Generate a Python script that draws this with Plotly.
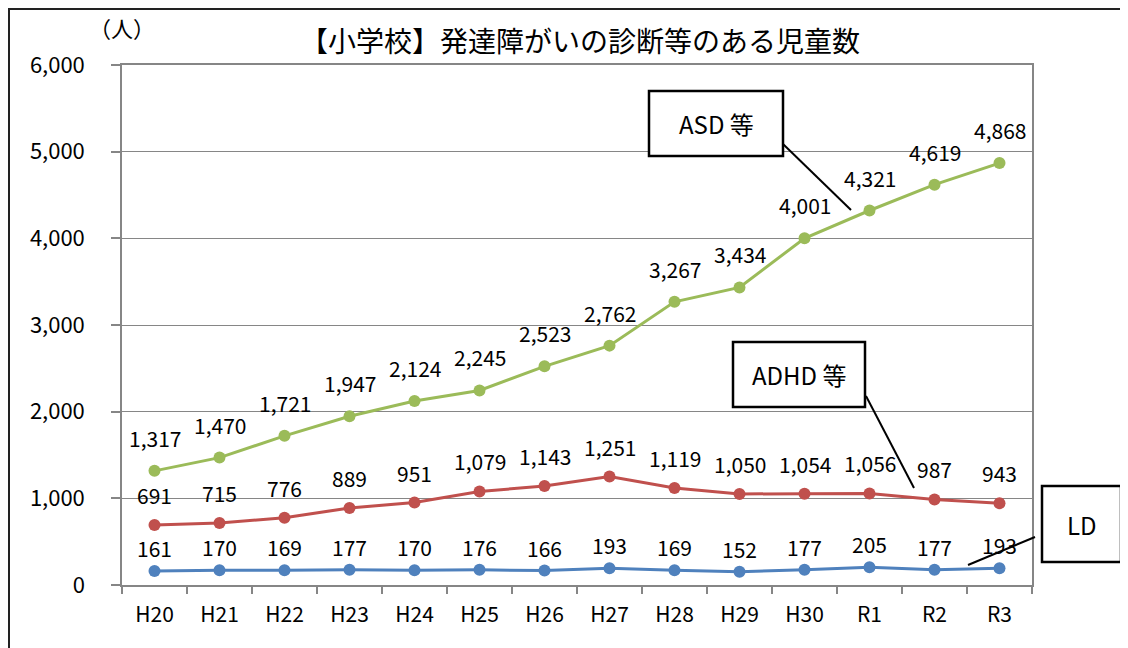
import plotly.graph_objects as go

categories = ["H20", "H21", "H22", "H23", "H24", "H25", "H26", "H27", "H28", "H29", "H30", "R1", "R2", "R3"]
asd = [1317, 1470, 1721, 1947, 2124, 2245, 2523, 2762, 3267, 3434, 4001, 4321, 4619, 4868]
adhd = [691, 715, 776, 889, 951, 1079, 1143, 1251, 1119, 1050, 1054, 1056, 987, 943]
ld = [161, 170, 169, 177, 170, 176, 166, 193, 169, 152, 177, 205, 177, 193]
series_names = ["ASD 等", "ADHD 等", "LD"]

OFF = 8  # page body margin
W, H = 1128 - OFF, 648 - OFF
L, R, T, B = 122, 1032, 65, 585  # plot area in window pixels
FONT = "Noto Sans CJK JP, Noto Sans, sans-serif"

def px(x):
    return (x - L) / (R - L)

def py(y):
    return (B - y) / (B - T)

fig = go.Figure()
styles = [("#9BBB59", 33), ("#C0504D", 30), ("#4F81BD", 23)]
annotations = []
for vals, name, (col, shift) in zip([asd, adhd, ld], series_names, styles):
    fig.add_trace(go.Scatter(
        x=categories, y=vals, name=name, mode="lines+markers",
        line=dict(color=col, width=3), marker=dict(color=col, size=12),
        hoverinfo="x+y+name", showlegend=False,
    ))
    for c, v in zip(categories, vals):
        annotations.append(dict(
            x=c, y=v, xref="x", yref="y", text=f"{v:,}", showarrow=False,
            yshift=shift, yanchor="middle", xanchor="center",
            font=dict(family=FONT, size=21, color="#000"),
        ))

# title and unit
annotations.append(dict(x=px(580), y=py(40), xref="paper", yref="paper",
                        text="【小学校】発達障がいの診断等のある児童数", showarrow=False,
                        xanchor="center", yanchor="middle",
                        font=dict(family=FONT, size=28, color="#000")))
annotations.append(dict(x=px(122), y=py(27), xref="paper", yref="paper",
                        text="（人）", showarrow=False, xanchor="center", yanchor="middle",
                        font=dict(family=FONT, size=22, color="#000")))

shapes = []
# outer border (drawn at the figure's top-left edge)
shapes.append(dict(type="rect", xref="paper", yref="paper",
                   x0=px(9), y0=py(670), x1=px(1150), y1=py(9),
                   line=dict(color="#222", width=2), fillcolor="rgba(0,0,0,0)"))

# callout boxes
boxes = [
    ("ASD 等", (649, 91, 783, 156), ((783, 144), (851, 210))),
    ("ADHD 等", (733, 342, 865, 407), ((866, 396), (914, 488))),
    ("LD", (1042, 486, 1121, 562), ((1035, 537), (968, 565))),
]
for text, (x0, y0, x1, y1), ((lx0, ly0), (lx1, ly1)) in boxes:
    shapes.append(dict(type="rect", xref="paper", yref="paper",
                       x0=px(x0), y0=py(y1), x1=px(x1), y1=py(y0),
                       line=dict(color="#000", width=2.5), fillcolor="white"))
    shapes.append(dict(type="line", xref="paper", yref="paper",
                       x0=px(lx0), y0=py(ly0), x1=px(lx1), y1=py(ly1),
                       line=dict(color="#000", width=2)))
    annotations.append(dict(x=px((x0 + x1) / 2), y=py((y0 + y1) / 2), xref="paper", yref="paper",
                            text=text, showarrow=False, xanchor="center", yanchor="middle",
                            font=dict(family=FONT, size=24, color="#000")))

fig.update_layout(
    width=W, height=H,
    margin=dict(l=L - OFF, r=W - (R - OFF), t=T - OFF, b=H - (B - OFF), pad=0),
    paper_bgcolor="white", plot_bgcolor="white",
    shapes=shapes, annotations=annotations,
    font=dict(family=FONT, color="#000"),
)
fig.update_xaxes(
    type="category", range=[-0.5, 13.5], tickson="boundaries",
    ticks="outside", ticklen=7, tickcolor="#868686", tickwidth=1.5,
    showline=True, linecolor="#868686", linewidth=1.5, mirror=True,
    showgrid=False, tickfont=dict(family=FONT, size=21, color="#000"),
    ticklabelstandoff=10,
)
fig.update_yaxes(
    range=[0, 6000], dtick=1000, tickformat=",",
    ticks="outside", ticklen=9, tickcolor="#868686", tickwidth=1.5,
    showline=True, linecolor="#868686", linewidth=1.5, mirror=True,
    showgrid=True, gridcolor="#868686", gridwidth=1,
    zeroline=False, tickfont=dict(family=FONT, size=22, color="#000"),
    ticklabelstandoff=22,
)

fig.write_html("out.html")
